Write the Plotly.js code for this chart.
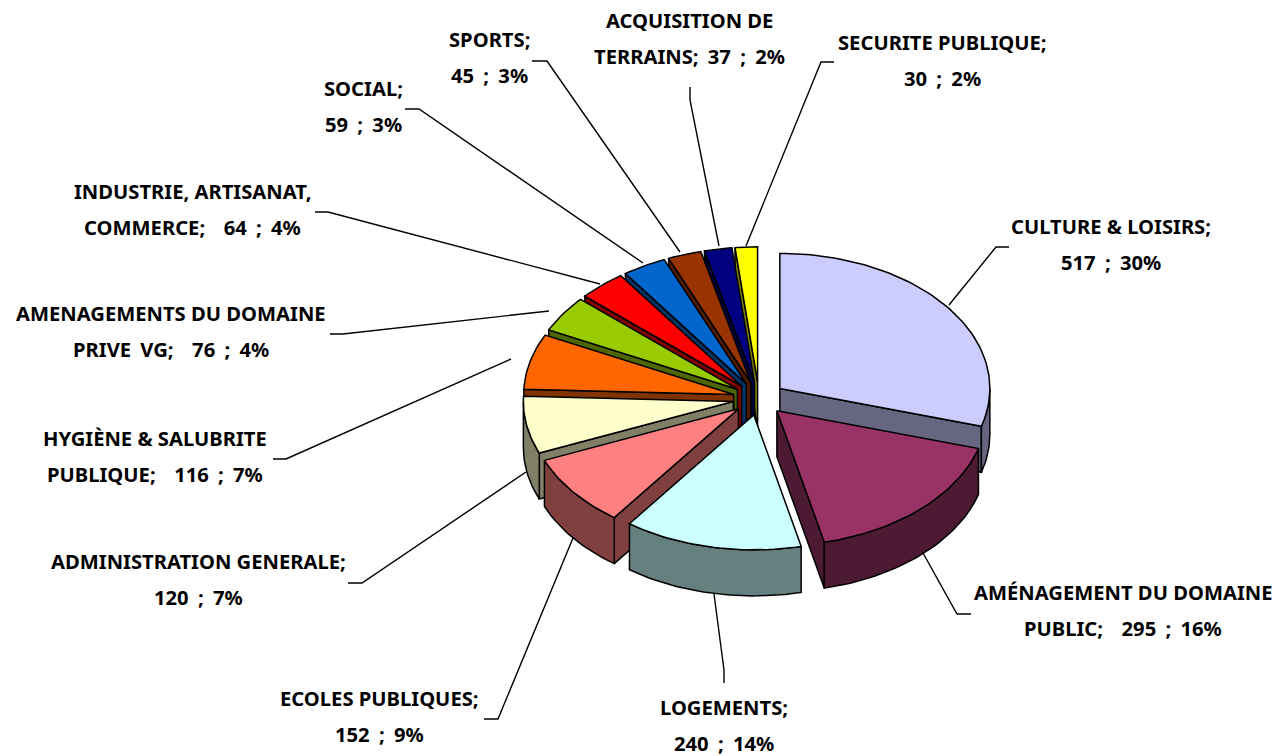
<!DOCTYPE html>
<html>
<head>
<meta charset="utf-8">
<script src="https://cdn.plot.ly/plotly-3.0.1.min.js"></script>
<style>html,body{margin:0;padding:0;background:#fff}#chart{width:1276px;height:756px}</style>
</head>
<body>
<div id="chart"></div>
<script>
// Data
const categories = ["CULTURE & LOISIRS","AMÉNAGEMENT DU DOMAINE PUBLIC","LOGEMENTS","ECOLES PUBLIQUES","ADMINISTRATION GENERALE","HYGIÈNE & SALUBRITE PUBLIQUE","AMENAGEMENTS DU DOMAINE PRIVE VG","INDUSTRIE, ARTISANAT, COMMERCE","SOCIAL","SPORTS","ACQUISITION DE TERRAINS","SECURITE PUBLIQUE"];
const values = [517,295,240,152,120,116,76,64,59,45,37,30];
const topColors = ["#CCCCFF","#993366","#CCFFFF","#FF8080","#FFFFCC","#FF6600","#99CC00","#FF0000","#0066CC","#993300","#000080","#FFFF00"];
const sideColors = ["#666680","#4D1A33","#668080","#804040","#808066","#803300","#4D6600","#800000","#003366","#4D1A00","#000040","#808000"];
const labelLine1 = ["CULTURE & LOISIRS;","AMÉNAGEMENT DU DOMAINE","LOGEMENTS;","ECOLES PUBLIQUES;","ADMINISTRATION GENERALE;","HYGIÈNE & SALUBRITE","AMENAGEMENTS DU DOMAINE","INDUSTRIE, ARTISANAT,","SOCIAL;","SPORTS;","ACQUISITION DE","SECURITE PUBLIQUE;"];
const labelLine2 = ["517 ; 30%","PUBLIC;  295 ; 16%","240 ; 14%","152 ; 9%","120 ; 7%","PUBLIQUE;  116 ; 7%","PRIVE VG;  76 ; 4%","COMMERCE;  64 ; 4%","59 ; 3%","45 ; 3%","TERRAINS; 37 ; 2%","30 ; 2%"];
const drawOrder = [11,10,9,8,7,6,5,4,3,0,1,2];

// Layout of the drawing (pixel-scaled axes)
const CX = 759, CY = 398.5, RX = 210, RY = 135, DEPTH = 46, EXPLODE = 0.124;
const labelPos = [[1111,226],[1123,592],[724,707],[379,698],[198,561],[155,438],[171,313],[192,191],[363,88],[489,39],[689,20],[942,42]];
const LINE_GAP = 36;
const leaders = [
 [[949,305],[996,247],[1009,247]],
 [[923,553],[957,614],[971,614]],
 [[714,594],[724,670],[724,683]],
 [[573,538],[498,719],[484,719]],
 [[526,472],[362,583],[348,583]],
 [[511,359],[286,459],[273,459]],
 [[549,311],[343,334],[330,334]],
 [[600,284],[328,212],[315,212]],
 [[643,263],[419,109],[405,109]],
 [[680,252],[547,61],[532,61]],
 [[719,246],[690,100],[690,87]],
 [[746,246],[821,62],[834,62]]
];

const total = values.reduce((a,b)=>a+b,0);
const rad = d => d*Math.PI/180;
let acc = 0;
const slices = values.map(v => { const a0 = acc/total*360; acc += v; return {a0, a1: acc/total*360}; });
const outline = {color:'#000', width:1.5, shape:'linear'};

function poly(pts, fill){
  const p = pts.concat([pts[0]]);
  return {type:'scatter', mode:'lines', x:p.map(q=>q[0]), y:p.map(q=>q[1]), fill:'toself', fillcolor:fill, line:outline, hoverinfo:'skip', showlegend:false};
}
function rimPoint(ax,ay,a){ return [ax+RX*Math.sin(rad(a)), ay-RY*Math.cos(rad(a))]; }
function arc(ax,ay,a0,a1){
  const n = Math.max(8, Math.ceil((a1-a0)/1.5)), out = [];
  for(let k=0;k<=n;k++) out.push(rimPoint(ax,ay,a0+(a1-a0)*k/n));
  return out;
}

const traces = [];
drawOrder.forEach(i => {
  const s = slices[i], mid = (s.a0+s.a1)/2;
  const ax = CX + EXPLODE*RX*Math.sin(rad(mid));
  const ay = CY - EXPLODE*RY*Math.cos(rad(mid));
  const down = p => [p[0],p[1]+DEPTH];
  const A = [ax,ay];
  const rim = arc(ax,ay,s.a0,s.a1);
  // radial faces that turn towards the viewer
  if(s.a0 > 180){ const F = rim[0]; traces.push(poly([A,F,down(F),down(A)], sideColors[i])); }
  if(s.a1 < 180){ const L = rim[rim.length-1]; traces.push(poly([A,L,down(L),down(A)], sideColors[i])); }
  // outer wall: front half of the rim only
  const w0 = Math.max(s.a0,90), w1 = Math.min(s.a1,270);
  if(w1 > w0){ const w = arc(ax,ay,w0,w1); traces.push(poly(w.concat(w.slice().reverse().map(down)), sideColors[i])); }
  traces.push(poly([A].concat(rim), topColors[i]));
});
leaders.forEach(l => traces.push({type:'scatter', mode:'lines', x:l.map(p=>p[0]), y:l.map(p=>p[1]), line:{color:'#000',width:1.4}, hoverinfo:'skip', showlegend:false}));

const font = {family:'"Noto Sans", "Open Sans", sans-serif', size:20.2, color:'#000'};
const annotations = [];
categories.forEach((c,i) => {
  [labelLine1[i],labelLine2[i]].forEach((t,j) => annotations.push({
    text:'<b>'+t.replace(/&/g,'&amp;')+'</b>', xref:'x', yref:'y', x:labelPos[i][0], y:labelPos[i][1]+j*LINE_GAP,
    showarrow:false, xanchor:'center', yanchor:'middle', font:font
  }));
});

Plotly.newPlot('chart', traces, {
  width:1276, height:756, margin:{l:0,r:0,t:0,b:0,pad:0},
  paper_bgcolor:'#fff', plot_bgcolor:'#fff', showlegend:false,
  xaxis:{range:[0,1276], visible:false, fixedrange:true},
  yaxis:{range:[756,0], visible:false, fixedrange:true},
  annotations:annotations
}, {displayModeBar:false, staticPlot:true}).then(() => {
  // the reference sets the value lines with wider word gaps
  document.querySelectorAll('.annotation-text').forEach(el => {
    if(/\d/.test(el.textContent)) el.style.wordSpacing = '4px';
  });
});
</script>
</body>
</html>
